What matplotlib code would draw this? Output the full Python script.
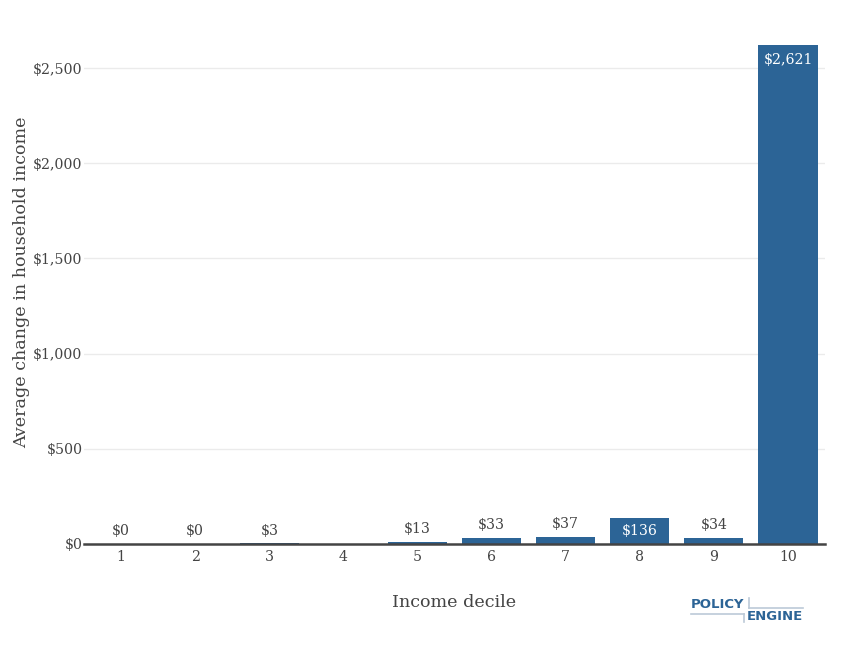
import matplotlib.pyplot as plt
from matplotlib.lines import Line2D

# Average change in household income by decile
deciles = ['1', '2', '3', '4', '5', '6', '7', '8', '9', '10']
changes = [0.4, 0.3, 3, 0, 13, 33, 37, 136, 34, 2621]
yticks = [0, 500, 1000, 1500, 2000, 2500]
ytick_labels = ['$0', '$500', '$1,000', '$1,500', '$2,000', '$2,500']

bar_color = '#2C6496'
text_color = '#444444'
serif = ['DejaVu Serif']

fig = plt.figure(figsize=(8.52, 6.47), dpi=100)
ax = fig.add_axes([0.0986, 0.1592, 0.8697, 0.8098])

x = range(len(deciles))
bars = ax.bar(x, changes, width=0.8, color=bar_color, zorder=3)

ax.set_xlim(-0.5, len(deciles) - 0.5)
ax.set_ylim(0, 2621 * 1.05)
ax.set_xticks(list(x))
ax.set_xticklabels(deciles, fontfamily=serif, fontsize=10.2, color=text_color)
ax.set_yticks(yticks)
ax.set_yticklabels(ytick_labels, fontfamily=serif, fontsize=10.2, color=text_color)
ax.tick_params(axis='y', length=0, pad=1)
ax.tick_params(axis='x', length=0, pad=4)
ax.grid(axis='y', color='#ebebeb', linewidth=1, zorder=0)

for s in ['top', 'right', 'left']:
    ax.spines[s].set_visible(False)
ax.spines['bottom'].set_color('#444444')
ax.spines['bottom'].set_linewidth(1.8)
ax.spines['bottom'].set_zorder(4)

ax.set_xlabel('Income decile', fontfamily=serif, fontsize=12.6, color=text_color, labelpad=22)
ax.set_ylabel('Average change in household income', fontfamily=serif, fontsize=12.6,
              color=text_color, labelpad=2)

# bar labels: inside for tall bars, outside otherwise
for i, v in enumerate(changes):
    if v <= 0:
        continue
    lab = '${:,.0f}'.format(v)
    if v > 2000:
        ax.text(i, v - 40, lab, ha='center', va='top', color='white',
                fontfamily=serif, fontsize=10.2, zorder=5)
    elif v > 100:
        ax.text(i, v / 2, lab, ha='center', va='center', color='white',
                fontfamily=serif, fontsize=10.2, zorder=5)
    else:
        ax.text(i, v + 30, lab, ha='center', va='bottom', color=text_color,
                fontfamily=serif, fontsize=10.2, zorder=5)

# PolicyEngine logo
logo_blue = '#2C6496'
line_col = '#BCCAD8'
fig.text(691 / 852, 1 - 604 / 647, 'POLICY', color=logo_blue, fontsize=9.5,
         fontweight='bold', fontfamily='DejaVu Sans', ha='left', va='center')
fig.text(803 / 852, 1 - 617 / 647, 'ENGINE', color=logo_blue, fontsize=9.5,
         fontweight='bold', fontfamily='DejaVu Sans', ha='right', va='center')
fig.add_artist(Line2D([691 / 852, 744 / 852], [1 - 614 / 647, 1 - 614 / 647],
                      color=line_col, linewidth=1.2, transform=fig.transFigure))
fig.add_artist(Line2D([744 / 852, 744 / 852], [1 - 614 / 647, 1 - 622 / 647],
                      color=line_col, linewidth=1.2, transform=fig.transFigure))
fig.add_artist(Line2D([749 / 852, 749 / 852], [1 - 598 / 647, 1 - 608 / 647],
                      color=line_col, linewidth=1.2, transform=fig.transFigure))
fig.add_artist(Line2D([749 / 852, 803 / 852], [1 - 608 / 647, 1 - 608 / 647],
                      color=line_col, linewidth=1.2, transform=fig.transFigure))

fig.savefig('out.png', dpi=100)
